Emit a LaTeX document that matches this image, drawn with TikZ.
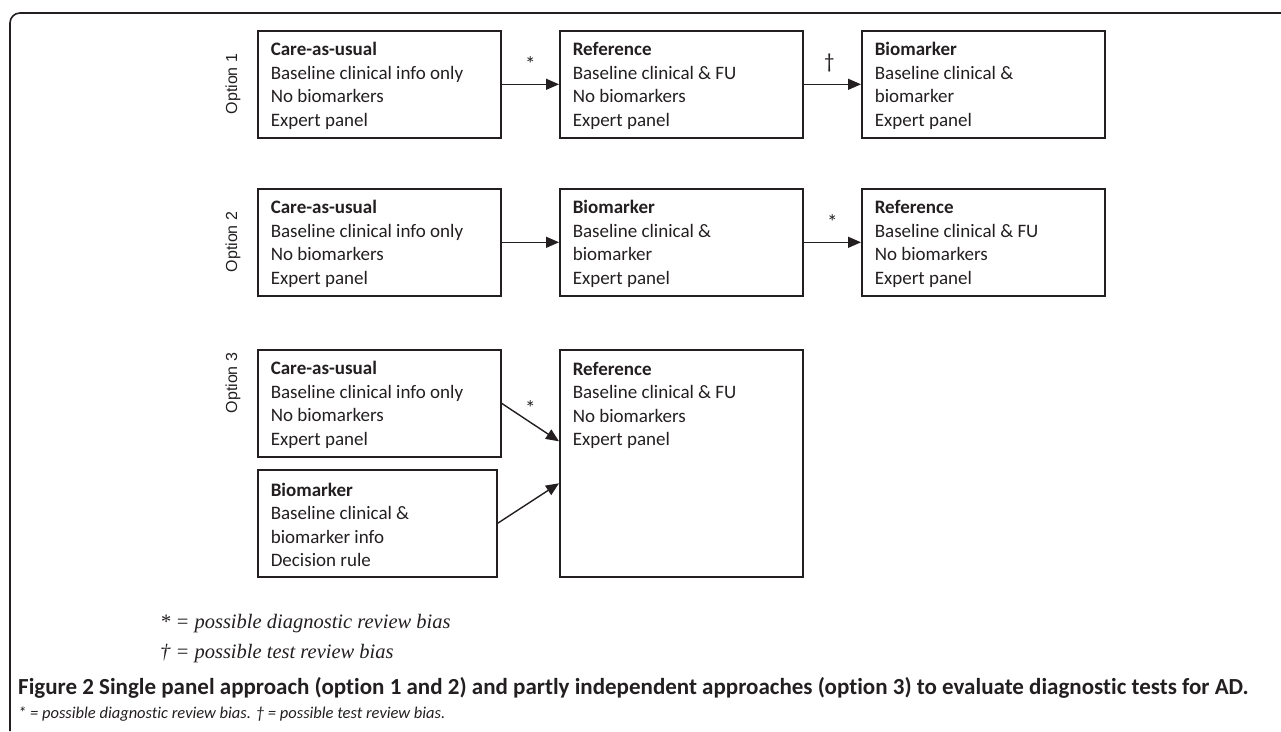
\documentclass[tikz,border=0pt]{standalone}
\usepackage{fontspec}
\setmainfont{Carlito}[Ligatures={NoCommon}]
\newfontfamily\optfont{Liberation Sans}
\newfontfamily\legfont{Liberation Serif}
\usetikzlibrary{arrows.meta}
\definecolor{ink}{HTML}{231F20}
\newcommand{\bxt}[4]{\parbox{217pt}{\vspace*{3pt}\textbf{#1}\\#2\\#3\\#4}}
\begin{document}
\begin{tikzpicture}[x=1pt,y=-1pt,
  box/.style={draw=ink, text=ink, line width=1.6pt, minimum width=243pt, minimum height=107pt, inner sep=0pt, anchor=north west, font=\fontsize{19}{23.5}\selectfont},
  arr/.style={draw=ink, line width=1.4pt, -{Triangle[length=13pt,width=11pt]}},
  opt/.style={rotate=90, text=ink, font=\optfont\fontsize{16}{19}\selectfont},
  sym/.style={text=ink, font=\fontsize{21}{23}\selectfont, inner sep=0pt}
]
\useasboundingbox (0,0) rectangle (1281,731);
% frame
\draw[ink, line width=1.6pt, rounded corners=10pt] (10,731) -- (10,13) -- (1281,13);

% Option 1
\node[opt] (o1) at (233,84) {Option 1};
\node[box] (a1) at (257,30) {\bxt{Care-as-usual}{Baseline clinical info only}{No biomarkers}{Expert panel}};
\node[box] (b1) at (559,30) {\bxt{Reference}{Baseline clinical \& FU}{No biomarkers}{Expert panel}};
\node[box] (c1) at (861,30) {\bxt{Biomarker}{Baseline clinical \&}{biomarker}{Expert panel}};
\draw[arr] (a1) -- node[sym, above=12pt] {*} (b1);
\draw[arr] (b1) -- node[sym, above=12pt, xshift=-3pt] {†} (c1);

% Option 2
\node[opt] (o2) at (233,242) {Option 2};
\node[box] (a2) at (257,188) {\bxt{Care-as-usual}{Baseline clinical info only}{No biomarkers}{Expert panel}};
\node[box] (b2) at (559,188) {\bxt{Biomarker}{Baseline clinical \&}{biomarker}{Expert panel}};
\node[box] (c2) at (861,188) {\bxt{Reference}{Baseline clinical \& FU}{No biomarkers}{Expert panel}};
\draw[arr] (a2) -- (b2);
\draw[arr] (b2) -- node[sym, above=12pt] {*} (c2);

% Option 3
\node[opt] (o3) at (233,383) {Option 3};
\node[box] (a3) at (257,349) {\bxt{Care-as-usual}{Baseline clinical info only}{No biomarkers}{Expert panel}};
\node[box, minimum width=239pt] (b3) at (257,469) {\parbox{213pt}{\vspace*{3pt}\textbf{Biomarker}\\Baseline clinical \&\\biomarker info\\Decision rule}};
\node[box, minimum height=227pt] (r3) at (559,349) {\parbox[c][203pt][t]{217pt}{\textbf{Reference}\\Baseline clinical \& FU\\No biomarkers\\Expert panel}};
\draw[arr] (a3.east) -- node[sym, pos=0.5, xshift=0pt, yshift=14pt] {*} ([yshift=22pt]r3.west);
\draw[arr] (b3.east) -- ([yshift=-20pt]r3.west);

% legend
\node[anchor=north west, text=ink, align=left, inner sep=0pt, font=\legfont\itshape\fontsize{20.5}{30}\selectfont] (leg) at (160,614) {* = possible diagnostic review bias\\† = possible test review bias};

% caption
\node[anchor=west, text=ink, inner sep=0pt, font=\bfseries\fontsize{23}{26}\selectfont] (cap) at (18,688) {Figure 2 Single panel approach (option 1 and 2) and partly independent approaches (option 3) to evaluate diagnostic tests for AD.};
\node[anchor=west, text=ink, inner sep=0pt, font=\itshape\fontsize{16.5}{18}\selectfont] (cap2) at (18,714) {* = possible diagnostic review bias. † = possible test review bias.};
\end{tikzpicture}
\end{document}
